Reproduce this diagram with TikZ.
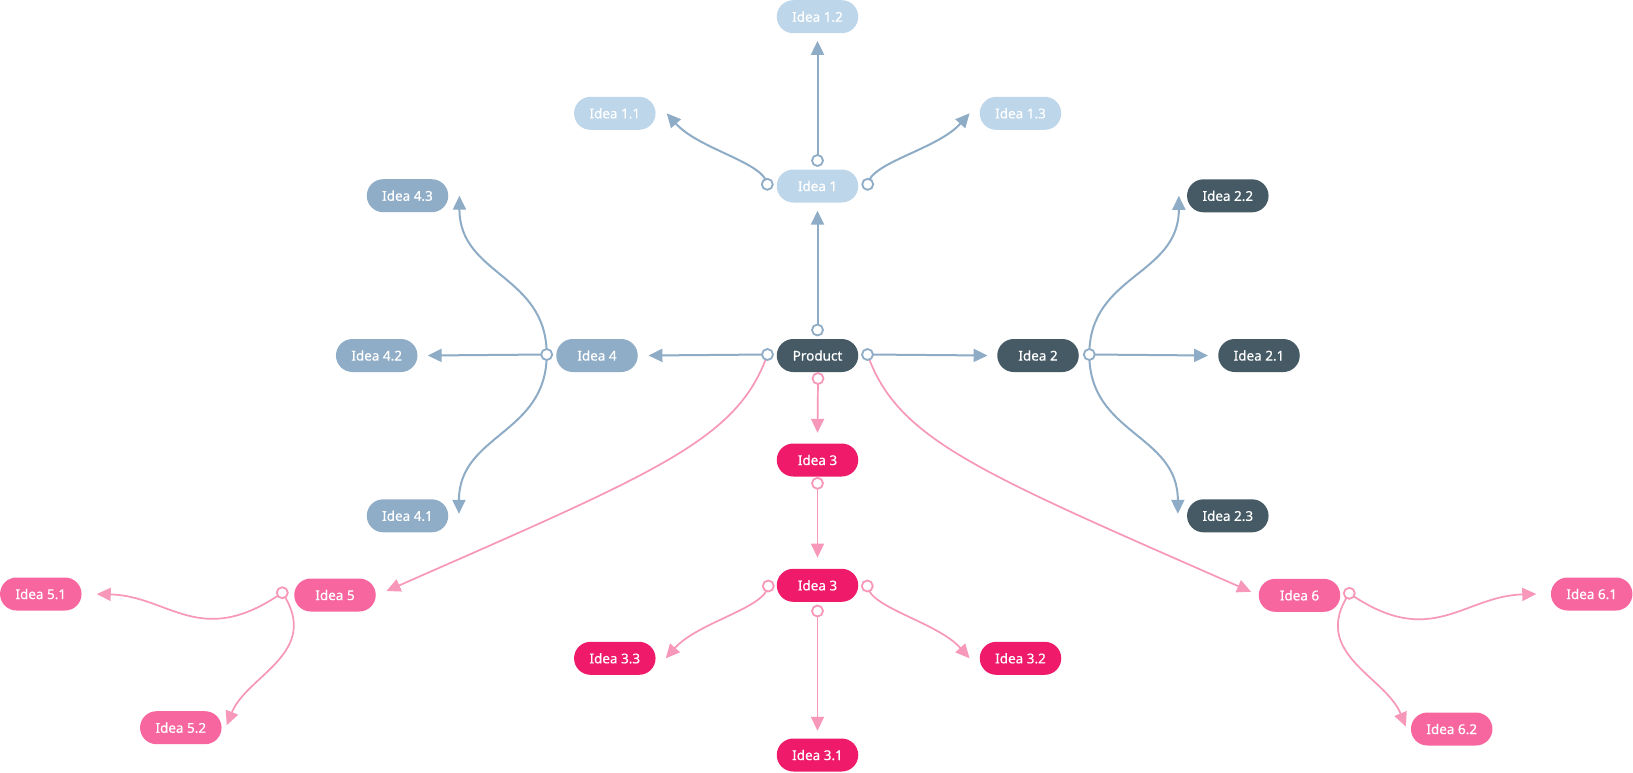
\documentclass[tikz,border=0pt]{standalone}
\usepackage{fontspec}
\setmainfont{Noto Sans}
\newfontfamily\medfont[FakeBold=0.5]{Noto Sans}
\usetikzlibrary{arrows.meta,backgrounds,calc}
\definecolor{cDark}{HTML}{455A64}
\definecolor{cMid}{HTML}{8FADC7}
\definecolor{cLight}{HTML}{BDD6EA}
\definecolor{cLineB}{HTML}{8EACC6}
\definecolor{cHot}{HTML}{EF1A6A}
\definecolor{cPink}{HTML}{F8669F}
\definecolor{cLineP}{HTML}{F797BA}
\begin{document}
\begin{tikzpicture}[x=1pt,y=-1pt,
  idea/.style={rounded corners=16.5pt, minimum width=81.5pt, minimum height=33pt, inner sep=0pt, text=white, font=\medfont\fontsize{13.5}{16}\selectfont},
  darkidea/.style={idea, fill=cDark},
  mididea/.style={idea, fill=cMid},
  lightidea/.style={idea, fill=cLight},
  hotidea/.style={idea, fill=cHot},
  pinkidea/.style={idea, fill=cPink},
  portb/.style={circle, draw=cLineB, line width=1.8pt, fill=white, minimum size=11pt, inner sep=0pt},
  portp/.style={portb, draw=cLineP},
  lineb/.style={draw=cLineB, line width=2pt, -{Triangle[length=14pt,width=13pt]}},
  linep/.style={draw=cLineP, line width=1.7pt, -{Triangle[length=14pt,width=13pt]}},
]
\useasboundingbox (0,0) rectangle (1633,772);

% nodes
\node[darkidea] (prod) at (817.5,355.5) {Product};
\node[lightidea] (i1) at (817.5,186) {Idea 1};
\node[lightidea] (i12) at (817.5,16.7) {Idea 1.2};
\node[lightidea] (i11) at (614.8,113.3) {Idea 1.1};
\node[lightidea] (i13) at (1020.5,113.3) {Idea 1.3};
\node[mididea] (i4) at (597,355.5) {Idea 4};
\node[mididea] (i42) at (376.7,355.5) {Idea 4.2};
\node[mididea] (i43) at (407.5,195.7) {Idea 4.3};
\node[mididea] (i41) at (407.5,515.8) {Idea 4.1};
\node[darkidea] (i2) at (1038,355.5) {Idea 2};
\node[darkidea] (i21) at (1259,355.5) {Idea 2.1};
\node[darkidea] (i22) at (1227.8,195.8) {Idea 2.2};
\node[darkidea] (i23) at (1227.8,515.8) {Idea 2.3};
\node[hotidea] (i3a) at (817.5,460) {Idea 3};
\node[hotidea] (i3b) at (817.5,585.3) {Idea 3};
\node[hotidea] (i33) at (614.8,658.3) {Idea 3.3};
\node[hotidea] (i32) at (1020.5,658.3) {Idea 3.2};
\node[hotidea] (i31) at (817.5,755) {Idea 3.1};
\node[pinkidea] (i5) at (335,595) {Idea 5};
\node[pinkidea] (i51) at (40.8,594) {Idea 5.1};
\node[pinkidea] (i52) at (180.8,727.7) {Idea 5.2};
\node[pinkidea] (i6) at (1299.5,595.3) {Idea 6};
\node[pinkidea] (i61) at (1591.7,594) {Idea 6.1};
\node[pinkidea] (i62) at (1451.7,729) {Idea 6.2};

% ports
\node[portb] (p0t) at (817.5,330) {};
\node[portp] (p0b) at (818,378.5) {};
\node[portb] (p0l) at (767.5,354.5) {};
\node[portb] (p0r) at (867.5,354.5) {};
\node[portb] (p1t) at (817.5,160.5) {};
\node[portb] (p1l) at (767.3,184.3) {};
\node[portb] (p1r) at (867.7,184.3) {};
\node[portb] (p4) at (546.7,354.5) {};
\node[portb] (p2) at (1089.3,354.5) {};
\node[portp] (p3a) at (817.5,483.3) {};
\node[portp] (p3bl) at (768.3,586) {};
\node[portp] (p3br) at (867.3,586) {};
\node[portp] (p3bb) at (817.5,611) {};
\node[portp] (p5) at (282.3,592.7) {};
\node[portp] (p6) at (1349.3,593.3) {};

% arrow tips
\coordinate (t1) at ([yshift=-8pt]i1.south);
\coordinate (t12) at ([yshift=-7.5pt]i12.south);
\coordinate (t11) at ([xshift=11pt]i11.east);
\coordinate (t13) at ([xshift=-10pt]i13.west);
\coordinate (t4) at ([xshift=10.5pt]i4.east);
\coordinate (t42) at ([xshift=10pt]i42.east);
\coordinate (t43) at ([xshift=11pt]i43.east);
\coordinate (t41) at ([xshift=10.5pt,yshift=2pt]i41.east);
\coordinate (t2) at ([xshift=-9.5pt]i2.west);
\coordinate (t21) at ([xshift=-10pt]i21.west);
\coordinate (t22) at ([xshift=-8pt]i22.west);
\coordinate (t23) at ([xshift=-9pt,yshift=2pt]i23.west);
\coordinate (t3a) at ([yshift=10.5pt]i3a.north);
\coordinate (t3b) at ([yshift=11pt]i3b.north);
\coordinate (t31) at ([yshift=7.5pt]i31.north);
\coordinate (t33) at ([xshift=10pt]i33.east);
\coordinate (t32) at ([xshift=-10pt]i32.west);
\coordinate (t5) at ([xshift=10.5pt,yshift=4pt]i5.east);
\coordinate (t6) at ([xshift=-7.5pt,yshift=3.5pt]i6.west);
\coordinate (t51) at ([xshift=15pt]i51.east);
\coordinate (t52) at ([xshift=5pt,yshift=2.5pt]i52.east);
\coordinate (t61) at ([xshift=-14.5pt]i61.west);
\coordinate (t62) at ([xshift=-5pt,yshift=2.5pt]i62.west);

\begin{pgfonlayer}{background}
\fill[white] (0,0) rectangle (1633,772);
\draw[lineb] (p0t.center) -- (t1);
\draw[lineb] (p1t.center) -- (t12);
\draw[lineb] (p1l.center) .. controls ($(p1l)+(-3,-22)$) and ($(t11)+(32,36)$) .. (t11);
\draw[lineb] (p1r.center) .. controls ($(p1r)+(3,-22)$) and ($(t13)+(-32,36)$) .. (t13);
\draw[lineb] (p0l.center) -- (t4);
\draw[lineb] (p4.center) -- (t42);
\draw[lineb] (p4.center) .. controls ($(p4)+(0,-80)$) and ($(t43)+(0,80)$) .. (t43);
\draw[lineb] (p4.center) .. controls ($(p4)+(0,80)$) and ($(t41)+(0,-80)$) .. (t41);
\draw[lineb] (p0r.center) -- (t2);
\draw[lineb] (p2.center) -- (t21);
\draw[lineb] (p2.center) .. controls ($(p2)+(0,-80)$) and ($(t22)+(0,80)$) .. (t22);
\draw[lineb] (p2.center) .. controls ($(p2)+(0,80)$) and ($(t23)+(0,-80)$) .. (t23);
\draw[linep] (p0b.center) -- (t3a);
\draw[linep] (p3a.center) -- (t3b);
\draw[linep] (p3bb.center) -- (t31);
\draw[linep] (p3bl.center) .. controls ($(p3bl)+(-3,22)$) and ($(t33)+(32,-36)$) .. (t33);
\draw[linep] (p3br.center) .. controls ($(p3br)+(3,22)$) and ($(t32)+(-32,-36)$) .. (t32);
\draw[linep] (p0l.center) .. controls ($(p0l)+(-30,85)$) and ($(t5)+(273,-120)$) .. (t5);
\draw[linep] (p0r.center) .. controls ($(p0r)+(30,85)$) and ($(t6)+(-273,-120)$) .. (t6);
\draw[linep] (p5.center) .. controls ($(p5)+(-82,57)$) and ($(t51)+(73,2)$) .. (t51);
\draw[linep] (p5.center) .. controls ($(p5)+(40,60)$) and ($(t52)+(20,-50)$) .. (t52);
\draw[linep] (p6.center) .. controls ($(p6)+(82,57)$) and ($(t61)+(-73,2)$) .. (t61);
\draw[linep] (p6.center) .. controls ($(p6)+(-40,60)$) and ($(t62)+(-20,-50)$) .. (t62);
\end{pgfonlayer}
\end{tikzpicture}
\end{document}
